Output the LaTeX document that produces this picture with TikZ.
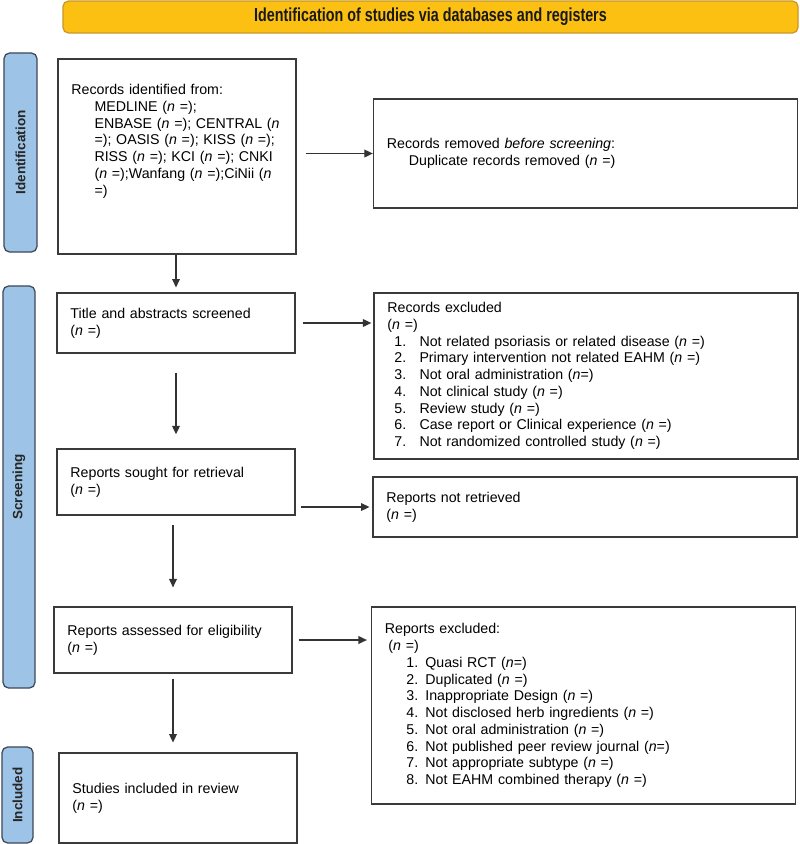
\documentclass[tikz,border=0pt]{standalone}
\usepackage{fontspec}
\setmainfont{Liberation Sans}
\newfontfamily\bannerfont[FakeStretch=0.76]{Liberation Sans}
\usetikzlibrary{arrows,arrows.meta}

\definecolor{bannergold}{RGB}{252,192,18}
\definecolor{bannerrim}{RGB}{200,152,40}
\definecolor{phaseblue}{RGB}{157,195,230}
\definecolor{phaserim}{RGB}{62,72,88}
\definecolor{boxrim}{RGB}{58,58,58}

\newcommand{\nval}{(\textit{n} =)}
\newcommand{\ind}{\hspace*{16.4pt}}
\newcommand{\recitem}[1]{\hspace*{5pt}\makebox[17.8pt][l]{#1}}

\begin{document}
\begin{tikzpicture}[x=0.025cm,y=-0.025cm,
  box/.style={draw=boxrim, line width=0.9pt, inner xsep=0.3375cm, inner ysep=0pt,
    align=left, font=\fontsize{10.1}{11.9}\selectfont},
  lbox/.style={box, text width=5.275cm},
  rbox/.style={box, text width=9.925cm},
  phase/.style={draw=phaserim, fill=phaseblue, line width=0.9pt, rounded corners=4pt,
    rotate=90, inner sep=0pt, text=black!85,
    font=\fontsize{9.6}{11}\selectfont\bfseries},
  flow/.style={-{Triangle[length=6pt,width=5.5pt]}, line width=0.8pt, black!80}]
  \useasboundingbox (0,0) rectangle (800,844);

  % banner and phase labels
  \node[draw=bannerrim, fill=bannergold, rounded corners=4pt, line width=0.9pt,
    minimum width=18.375cm, minimum height=0.8cm, text=black!90,
    font=\bannerfont\fontsize{13.4}{16}\selectfont\bfseries] (banner) at (430.5,17)
    {Identification of studies via databases and registers};
  \node[phase, minimum width=4.975cm, minimum height=0.825cm] (idlab) at (20.5,152.5) {Identification};
  \node[phase, minimum width=10.05cm, minimum height=0.8cm] (scrlab) at (19,487) {Screening};
  \node[phase, minimum width=2.4cm, minimum height=0.775cm] (inclab) at (17.5,795) {Included};

  % left column
  \node[lbox, minimum height=4.875cm] (recid) at (177,156.5) {Records identified from:\\
    \ind MEDLINE \nval;\\
    \ind ENBASE \nval; CENTRAL (\textit{n}\\
    \ind =); OASIS \nval; KISS \nval;\\
    \ind RISS \nval; KCI \nval; CNKI\\
    \ind (\textit{n} =);Wanfang \nval;CiNii (\textit{n}\\
    \ind =)\\ \mbox{}\\ \mbox{}};
  \node[lbox, minimum height=1.5cm] (title) at (176,323) {Title and abstracts screened\\ \nval};
  \node[lbox, minimum height=1.65cm] (sought) at (176,482) {Reports sought for retrieval\\ \nval};
  \node[lbox, minimum height=1.65cm] (assessed) at (173,640) {Reports assessed for eligibility\\ \nval};
  \node[lbox, minimum height=2.25cm] (studies) at (178,798) {Studies included in review\\ \nval};

  % right column
  \node[rbox, minimum height=2.725cm] (removed) at (585.5,153.5)
    {Records removed \textit{before screening}:\\ \hspace*{15.6pt}Duplicate records removed \nval};
  \node[rbox, minimum height=4.15cm] (recexcl) at (586,376) {Records excluded\\ \nval\\
    \recitem{1.}Not related psoriasis or related disease \nval\\
    \recitem{2.}Primary intervention not related EAHM \nval\\
    \recitem{3.}Not oral administration (\textit{n}=)\\
    \recitem{4.}Not clinical study \nval\\
    \recitem{5.}Review study \nval\\
    \recitem{6.}Case report or Clinical experience \nval\\
    \recitem{7.}Not randomized controlled study \nval};
  \node[rbox, minimum height=1.5cm] (notret) at (585,507) {Reports not retrieved\\ \nval};
  \node[rbox, minimum height=4.925cm] (repexcl) at (583.5,705.5) {Reports excluded:\\
    \hspace*{2.5pt}\nval\\
    \hspace*{15.3pt}1. Quasi RCT (\textit{n}=)\\
    \hspace*{15.3pt}2. Duplicated \nval\\
    \hspace*{15.3pt}3. Inappropriate Design \nval\\
    \hspace*{15.3pt}4. Not disclosed herb ingredients \nval\\
    \hspace*{15.3pt}5. Not oral administration \nval\\
    \hspace*{15.3pt}6. Not published peer review journal (\textit{n}=)\\
    \hspace*{15.3pt}7. Not appropriate subtype \nval\\
    \hspace*{15.3pt}8. Not EAHM combined therapy \nval};

  % arrows
  \draw[flow, shorten >=3.5pt] (recid.south -| title.north) -- (title.north);
  \draw[flow, shorten <=6.4pt] (recid.east |- removed.west) -- (removed.west);
  \draw[flow, shorten <=5pt, shorten >=1.4pt] (title.east) -- (title.east -| recexcl.west);
  \draw[flow, shorten <=13.5pt, shorten >=10pt] (title.south) -- (sought.north);
  \draw[flow, shorten <=3.5pt, shorten >=2pt] (sought.east |- notret.west) -- (notret.west);
  \draw[flow, shorten <=7pt, shorten >=13.5pt] (sought.south -| assessed.north) -- (assessed.north);
  \draw[flow, shorten <=4.3pt, shorten >=2.8pt] (assessed.east) -- (assessed.east -| repexcl.west);
  \draw[flow, shorten <=3.5pt, shorten >=7pt] (assessed.south) -- (assessed.south |- studies.north);
\end{tikzpicture}
\end{document}
